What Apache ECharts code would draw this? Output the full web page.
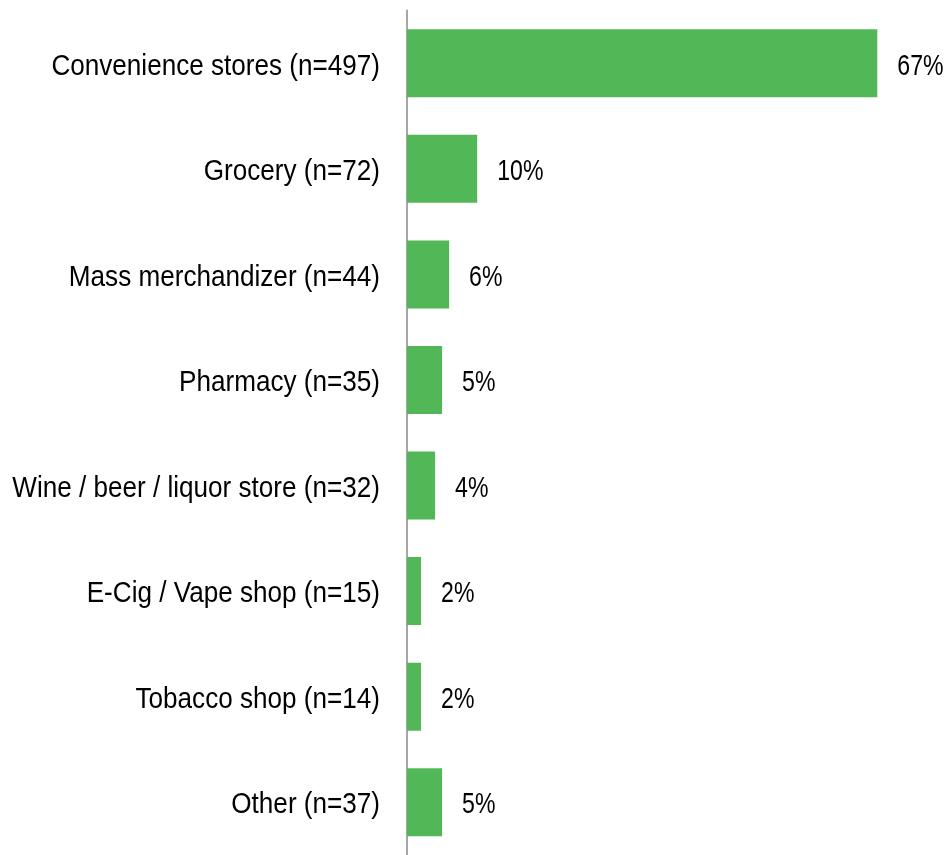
<!DOCTYPE html>
<html>
<head>
<meta charset="utf-8">
<script src="https://cdn.jsdelivr.net/npm/echarts@6/dist/echarts.min.js"></script>
<style>
  html, body { margin: 0; padding: 0; background: #ffffff; }
  #chart { width: 951px; height: 855px; }
</style>
</head>
<body>
<div id="chart"></div>
<script>
// Store types where purchases were made, with respondent counts
const categories = [
  'Convenience stores (n=497)',
  'Grocery (n=72)',
  'Mass merchandizer (n=44)',
  'Pharmacy (n=35)',
  'Wine / beer / liquor store (n=32)',
  'E-Cig / Vape shop (n=15)',
  'Tobacco shop (n=14)',
  'Other (n=37)'
];
// Share of purchases, percent
const shares = [67, 10, 6, 5, 4, 2, 2, 5];

const chart = echarts.init(document.getElementById('chart'), null, { renderer: 'canvas' });
const textFont = '"Liberation Sans", Arial, sans-serif';
const textSize = 30;

// Condensed text drawn at a point supplied by the axes
function narrowText(text, x, y, align, squeeze) {
  return {
    type: 'text',
    x: x,
    y: y,
    scaleX: squeeze,
    style: {
      text: text,
      fill: '#000000',
      fontSize: textSize,
      fontFamily: textFont,
      align: align,
      verticalAlign: 'middle'
    }
  };
}

chart.setOption({
  animation: false,
  backgroundColor: '#ffffff',
  grid: { left: 407, right: 0, top: 10.5, height: 848, containLabel: false },
  xAxis: {
    type: 'value',
    min: 0,
    max: 77.5,
    show: false
  },
  yAxis: {
    type: 'category',
    data: categories,
    inverse: true,
    axisLine: { show: true, lineStyle: { color: '#a6a6a6', width: 2 } },
    axisTick: { show: false },
    axisLabel: { show: false }
  },
  series: [
    {
      type: 'bar',
      data: shares,
      barWidth: 68,
      itemStyle: { color: '#52b857' }
    },
    {
      // category names to the left of the axis
      type: 'custom',
      coordinateSystem: 'cartesian2d',
      data: categories.map((c, i) => [0, i]),
      encode: { x: 0, y: 1 },
      silent: true,
      renderItem: function (params, api) {
        const p = api.coord([0, api.value(1)]);
        return narrowText(categories[params.dataIndex], p[0] - 27, p[1] + 3, 'right', 0.87);
      }
    },
    {
      // percentage labels past the end of each bar
      type: 'custom',
      coordinateSystem: 'cartesian2d',
      data: shares.map((v, i) => [v, i]),
      encode: { x: 0, y: 1 },
      silent: true,
      renderItem: function (params, api) {
        const v = api.value(0);
        const p = api.coord([v, api.value(1)]);
        return narrowText(v + '%', p[0] + 20, p[1] + 3, 'left', 0.77);
      }
    }
  ]
});
</script>
</body>
</html>
